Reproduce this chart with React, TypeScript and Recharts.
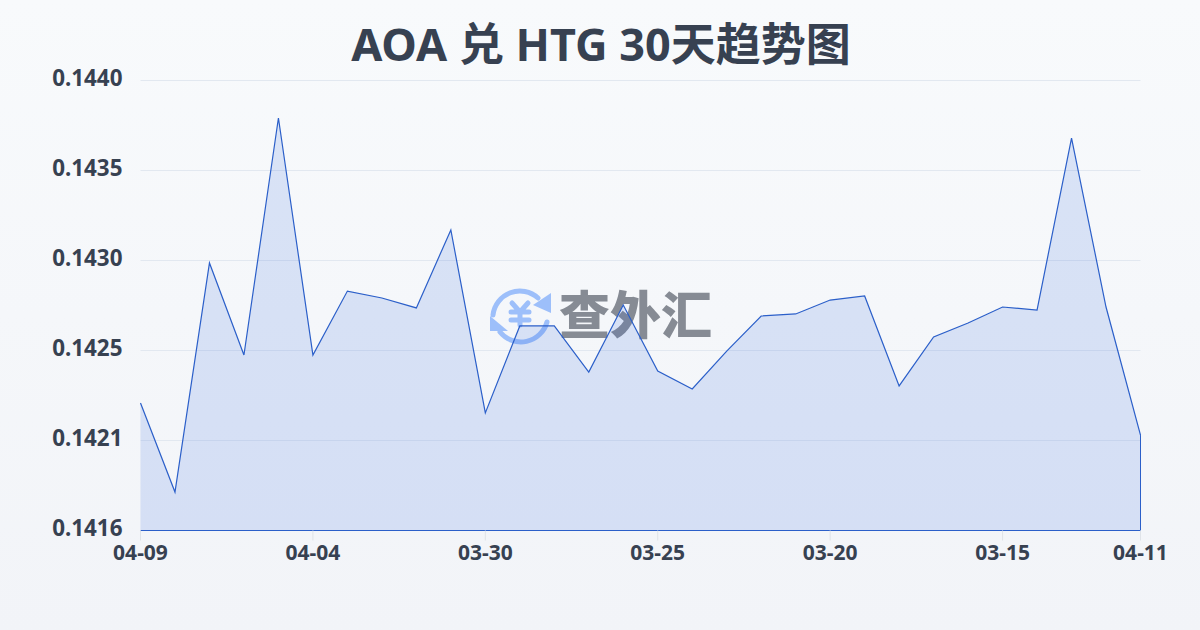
import React from "react";
import {
  AreaChart,
  Area,
  XAxis,
  YAxis,
  CartesianGrid,
  ReferenceLine,
} from "recharts";

const dates = [
  "04-09", "04-08", "04-07", "04-06", "04-05", "04-04", "04-03", "04-02", "04-01", "03-31",
  "03-30", "03-29", "03-28", "03-27", "03-26", "03-25", "03-24", "03-23", "03-22", "03-21",
  "03-20", "03-19", "03-18", "03-17", "03-16", "03-15", "03-14", "03-13", "03-12", "04-11",
];

const rates = [
  0.14226, 0.141785, 0.143007, 0.142516, 0.14378, 0.142516, 0.142857, 0.14282, 0.142767, 0.143183,
  0.142207, 0.142671, 0.142671, 0.142425, 0.142783, 0.142431, 0.142335, 0.142537, 0.142724, 0.142735,
  0.142809, 0.142831, 0.142351, 0.142612, 0.142687, 0.142772, 0.142756, 0.143673, 0.142772, 0.142089,
];

const xTicks = ["04-09", "04-04", "03-30", "03-25", "03-20", "03-15", "04-11"];
const yTicks = [0.14158, 0.14206, 0.14254, 0.14302, 0.1435, 0.14398];
const yMin = 0.14158;
const yMax = 0.14398;

const BLUE = "#2b5fc9";
const TEXT = "#374151";
const FONT = "'Noto Sans', 'Noto Sans CJK SC', sans-serif";

const data = dates.map((date, i) => ({ date, rate: rates[i] }));

// watermark behind the chart
const Watermark = () => (
  <div style={{ position: "absolute", left: 488, top: 284, width: 240, height: 60 }}>
    <svg width="66" height="62" style={{ position: "absolute", left: 0, top: 0 }}>
      <g fill="none" stroke="#9dbffa" strokeWidth="5" strokeLinecap="round" strokeLinejoin="round">
        <path d="M5 31 A27 27 0 0 1 50 14" />
        <path d="M59 38 A27 27 0 0 1 12 48" />
        <path d="M24 19 L32 28 L40 19 M32 28 L32 41 M23 28 L41 28 M23 36 L41 36" />
      </g>
      <path d="M63 9 L63 29 L45 21 Z" fill="#9dbffa" />
      <path d="M2 32 L2 47 L20 47 Z" fill="#9dbffa" />
    </svg>
    <span
      style={{
        position: "absolute",
        left: 71,
        top: -7,
        fontFamily: "'Noto Sans CJK SC', sans-serif",
        fontWeight: 900,
        fontSize: 51,
        lineHeight: "70px",
        color: "#868b94",
        whiteSpace: "nowrap",
      }}
    >
      查外汇
    </span>
  </div>
);

const App = () => (
  <div
    style={{
      position: "absolute",
      left: 0,
      top: 0,
      width: 1200,
      height: 630,
      overflow: "hidden",
      background: "linear-gradient(180deg, #f8fafc 0%, #f2f4f8 100%)",
    }}
  >
    <div
      style={{
        position: "absolute",
        left: 1,
        top: 12,
        width: 1200,
        textAlign: "center",
        fontFamily: FONT,
        fontWeight: 700,
        fontSize: 45,
        lineHeight: "64px",
        color: TEXT,
      }}
    >
      AOA 兑 HTG 30天趋势图
    </div>
    <Watermark />
    <div style={{ position: "absolute", left: 0, top: 0 }}>
      <AreaChart
        width={1200}
        height={630}
        data={data}
        margin={{ top: 80.5, right: 59.5, bottom: 49.5, left: 0 }}
      >
        <CartesianGrid vertical={false} stroke="#e2e8f0" strokeWidth={1} />
        <XAxis
          dataKey="date"
          ticks={xTicks}
          interval={0}
          height={50}
          axisLine={false}
          tickLine={{ stroke: "#dfe3e8" }}
          tickSize={10}
          tickMargin={5}
          tick={{ fill: TEXT, fontSize: 21, fontWeight: 700, fontFamily: FONT }}
        />
        <YAxis
          type="number"
          domain={[yMin, yMax]}
          ticks={yTicks}
          interval={0}
          width={140.5}
          axisLine={false}
          tickLine={false}
          tickMargin={12}
          tickFormatter={(v: number) => v.toFixed(4)}
          tick={{ fill: TEXT, fontSize: 22.4, fontWeight: 700, fontFamily: FONT, dy: -2 }}
        />
        <Area
          type="linear"
          dataKey="rate"
          stroke={BLUE}
          strokeWidth={1.2}
          fill="#2f62e0"
          fillOpacity={0.15}
          baseValue={yMin}
          isAnimationActive={false}
          dot={false}
          activeDot={false}
        />
        <ReferenceLine y={yMin} stroke={BLUE} strokeWidth={1} />
        <ReferenceLine
          segment={[
            { x: dates[0], y: yMin },
            { x: dates[0], y: rates[0] },
          ]}
          stroke={BLUE}
          strokeWidth={1}
        />
        <ReferenceLine
          segment={[
            { x: dates[dates.length - 1], y: yMin },
            { x: dates[dates.length - 1], y: rates[rates.length - 1] },
          ]}
          stroke={BLUE}
          strokeWidth={1}
        />
      </AreaChart>
    </div>
  </div>
);

export default App;
